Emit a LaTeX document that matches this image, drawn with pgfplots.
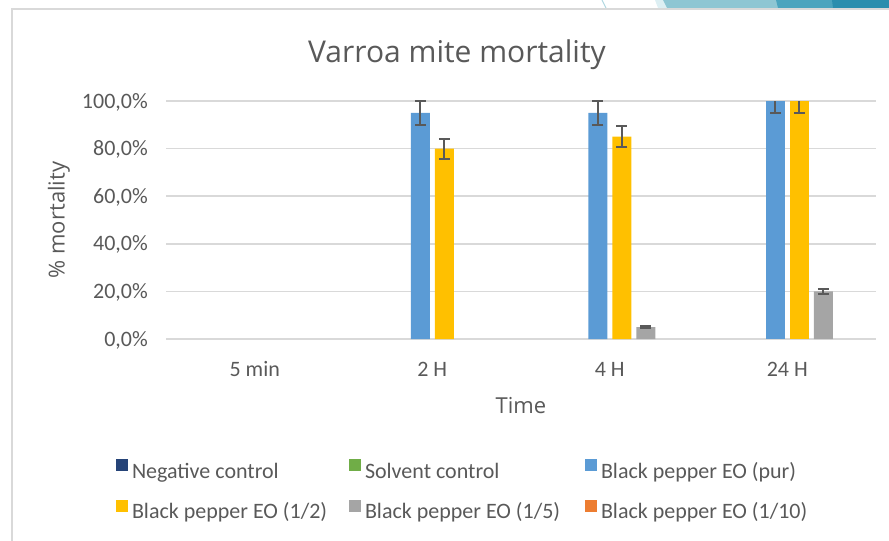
\documentclass[border=0pt]{standalone}
\usepackage{fontspec}
\setmainfont{Carlito}
\newfontfamily\osans{Open Sans}
\usepackage{pgfplots}
\pgfplotsset{compat=1.18}
\definecolor{txt}{HTML}{595959}
\definecolor{gridc}{HTML}{D9D9D9}
\definecolor{negc}{HTML}{264478}
\definecolor{solc}{HTML}{70AD47}
\definecolor{purc}{HTML}{5B9BD5}
\definecolor{halfc}{HTML}{FFC000}
\definecolor{fifthc}{HTML}{A5A5A5}
\definecolor{tenthc}{HTML}{ED7D31}
\definecolor{errc}{HTML}{595959}
\definecolor{decoA}{HTML}{DDEFF3}
\definecolor{decoB}{HTML}{8EC6D3}
\definecolor{decoC}{HTML}{4BA4BE}
\definecolor{decoD}{HTML}{2A8EAE}
\pgfplotsset{
  myerr/.style={/pgfplots/error bars/y dir=both, /pgfplots/error bars/y explicit,
    /pgfplots/error bars/error bar style={line width=2bp, errc},
    /pgfplots/error bars/error mark options={rotate=90, mark size=5.5bp, line width=2bp, errc}},
  zerobar/.style={fill=#1, draw=none, opacity=0, legend image post style={opacity=1}},
}
\newcommand{\lfont}{\fontsize{22bp}{26bp}\selectfont}
\begin{document}
\begin{tikzpicture}
\path[use as bounding box] (0,0) rectangle (889bp,-541bp);
% decorative strip (slide background)
\fill[decoA] (655bp,0) -- (665bp,0) -- (668bp,-8bp) -- (658bp,-8bp) -- cycle;
\fill[decoB] (663bp,0) -- (889bp,0) -- (889bp,-8bp) -- (667bp,-8bp) -- cycle;
\fill[decoC] (776bp,0) -- (889bp,0) -- (889bp,-8bp) -- (778bp,-8bp) -- cycle;
\fill[decoD] (832bp,0) -- (889bp,0) -- (889bp,-8bp) -- (833bp,-8bp) -- cycle;
\draw[decoB!70!white, line width=1bp] (602bp,0) -- (606bp,-8bp);
% chart frame
\draw[gridc, line width=2bp] (12bp,-541bp) -- (12bp,-9bp) -- (889bp,-9bp);
\begin{axis}[
  at={(166bp,-339bp)}, anchor=south west,
  scale only axis, width=710bp, height=238bp,
  xmin=-0.5, xmax=3.5, ymin=0, ymax=100,
  clip=false,
  ybar, bar width=19bp,
  xtick={0,1,2,3}, xticklabels={5 min, 2 H, 4 H, 24 H},
  ytick={0,20,40,60,80,100},
  yticklabels={{0,0\%},{20,0\%},{40,0\%},{60,0\%},{80,0\%},{100,0\%}},
  major tick length=0pt,
  ymajorgrids, grid style={gridc, line width=1.5bp},
  axis x line*=bottom, axis y line*=left,
  x axis line style={gridc, line width=1.5bp},
  y axis line style={draw=none},
  xticklabel style={font=\lfont, text=txt, anchor=north, inner sep=0pt,
    text height=15bp, text depth=4bp, yshift=-22bp},
  yticklabel style={font=\lfont, text=txt, anchor=east, inner sep=0pt,
    text height=14bp, text depth=0bp, xshift=-18bp},
  title={Varroa mite mortality},
  every axis title/.style={at={(axis description cs:0.4099,1.1597)}, anchor=base,
    font=\osans\fontsize{30bp}{36bp}\selectfont, text=txt},
  xlabel={Time},
  every axis x label/.style={at={(axis description cs:0.5,-0.311)}, anchor=base,
    font=\osans\fontsize{22bp}{26bp}\selectfont, text=txt},
  ylabel={\% mortality},
  every axis y label/.style={at={(axis description cs:-0.1507,0.5)}, rotate=90, anchor=center,
    font=\osans\fontsize{22bp}{26bp}\selectfont, text=txt},
  legend columns=3,
  legend cell align=left,
  legend style={at={(axis description cs:-0.0704,-0.503)}, anchor=north west,
    draw=none, fill=none, inner sep=0pt, outer sep=0pt,
    font=\lfont, text=txt, row sep=20bp, column sep=0pt,
    nodes={inner sep=0pt}},
  legend image code/.code={\fill[#1] (0bp,-1bp) rectangle (12bp,11bp);},
]
\addplot[zerobar=negc, bar shift=-60bp] coordinates {(0,0) (1,0) (2,0) (3,0)};
\addlegendentry{\makebox[221bp][l]{\hspace{4bp}\strut Negative control}}
\addplot[zerobar=solc, bar shift=-36bp] coordinates {(0,0) (1,0) (2,0) (3,0)};
\addlegendentry{\makebox[224bp][l]{\hspace{4bp}\strut Solvent control}}
\addplot[fill=purc, draw=none, bar shift=-12bp, myerr] coordinates {(1,95) +- (0,5) (2,95) +- (0,5)};
\addlegendentry{\hspace{4bp}\strut Black pepper EO (pur)}
\addplot[fill=halfc, draw=none, bar shift=12bp, myerr] coordinates {(1,80) +- (0,4.2) (2,85) +- (0,4.5)};
\addlegendentry{\makebox[221bp][l]{\hspace{4bp}\strut Black pepper EO (1/2)}}
\addplot[fill=fifthc, draw=none, bar shift=36bp, myerr] coordinates {(2,5) +- (0,0.5) (3,20) +- (0,1.2)};
\addlegendentry{\makebox[224bp][l]{\hspace{4bp}\strut Black pepper EO (1/5)}}
\addplot[zerobar=tenthc, bar shift=60bp] coordinates {(0,0) (1,0) (2,0) (3,0)};
\addlegendentry{\hspace{4bp}\strut Black pepper EO (1/10)}
% 24 H bars whose upper error is cut at the top of the axis
\addplot[forget plot, fill=purc, draw=none, bar shift=-12bp, myerr, /pgfplots/error bars/y dir=minus] coordinates {(3,100) -= (0,5)};
\addplot[forget plot, fill=halfc, draw=none, bar shift=12bp, myerr, /pgfplots/error bars/y dir=minus] coordinates {(3,100) -= (0,5)};
\end{axis}
\end{tikzpicture}
\end{document}
